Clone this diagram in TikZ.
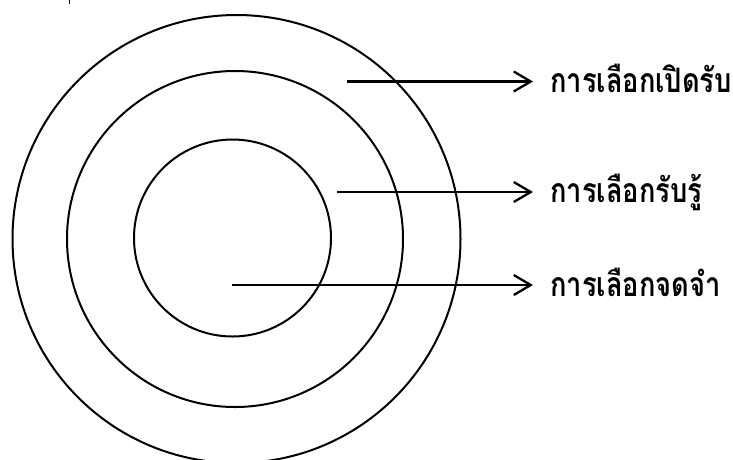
\documentclass[tikz,border=0pt]{standalone}
\usepackage{fontspec}
\newfontfamily\thaifont[Script=Thai]{Loma}
\usetikzlibrary{arrows.meta}
\tikzset{
  ring/.style={draw=black, line width=2pt},
  arr/.style={draw=black, line width=2.3pt, -{Straight Barb[length=17pt,width=20pt,line width=2.3pt]}},
  lab/.style={font=\thaifont\bfseries\fontsize{27}{30}\selectfont, inner sep=0pt, anchor=base west, text=black}
}
\newcommand{\tallthai}[1]{\scalebox{1.01}[1.25]{#1}}
\begin{document}
\begin{tikzpicture}[x=1pt,y=-1pt]
\useasboundingbox (0,0) rectangle (733,459);
\fill[white] (0,0) rectangle (733,459);
\begin{scope}
\clip (0,0) rectangle (733,459);
\draw[ring] (236.5,239) circle[radius=224];
\draw[ring] (235,239) circle[radius=168];
\draw[ring] (232.5,238) circle[radius=98.5];
\draw[line width=1.5pt] (69.5,0) -- (69.5,3.5);
\end{scope}
\node[lab] (t1) at (550,92.5) {\tallthai{การเลือกเปิดรับ}};
\node[lab] (t2) at (550,202) {\tallthai{การเลือกรับรู้}};
\node[lab] (t3) at (550,296) {\tallthai{การเลือกจดจำ}};
\coordinate (s1) at (347,81.5);
\coordinate (s2) at (337,192);
\coordinate (s3) at (231.5,285);
\draw[arr, shorten >=17pt] (s1) -- (s1 -| t1.west);
\draw[arr, shorten >=17pt] (s2) -- (s2 -| t2.west);
\draw[arr, shorten >=17pt] (s3) -- (s3 -| t3.west);
\end{tikzpicture}
\end{document}
